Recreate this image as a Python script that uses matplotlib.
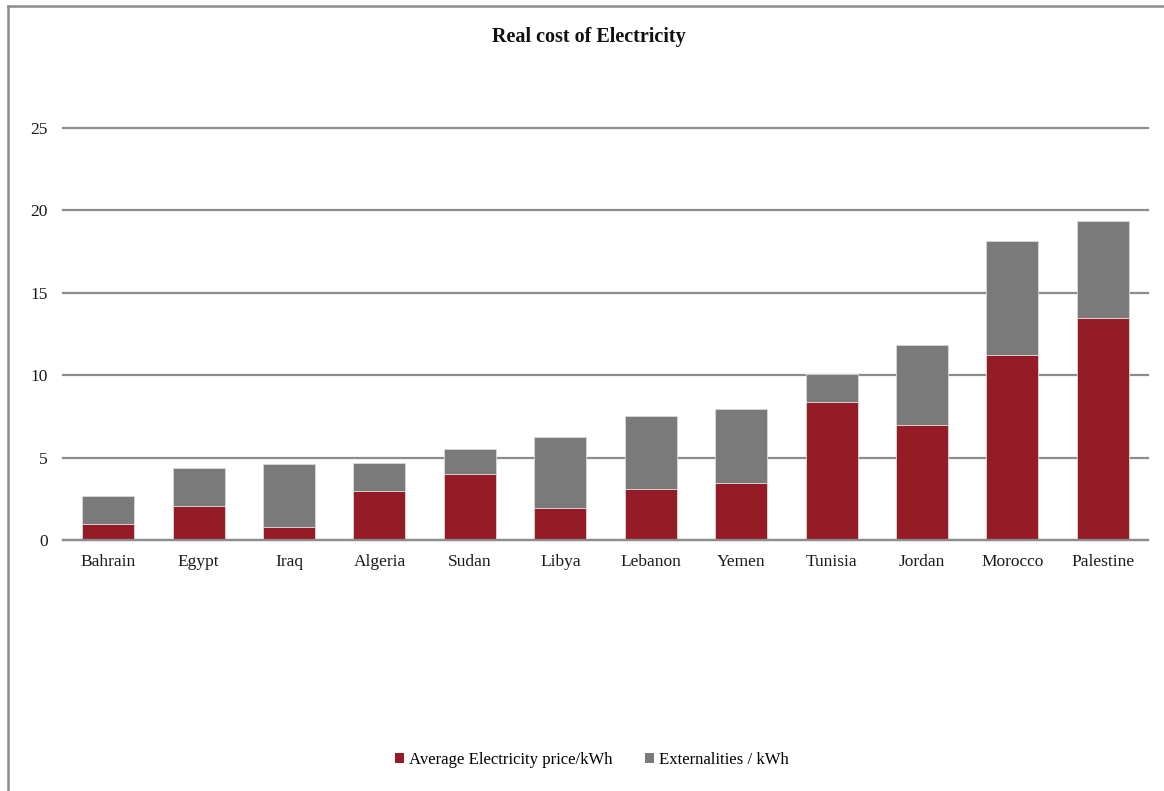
import matplotlib.pyplot as plt
from matplotlib.lines import Line2D
from matplotlib.patches import Patch
import numpy as np

countries = ['Bahrain', 'Egypt', 'Iraq', 'Algeria', 'Sudan', 'Libya',
             'Lebanon', 'Yemen', 'Tunisia', 'Jordan', 'Morocco', 'Palestine']
avg_price = [1.0, 2.05, 0.77, 2.95, 4.03, 1.96, 3.1, 3.48, 8.4, 7.0, 11.2, 13.5]
externalities = [1.7, 2.3, 3.83, 1.75, 1.47, 4.29, 4.4, 4.47, 1.65, 4.85, 6.95, 5.85]

red = '#951c26'
grey = '#7a7a7a'
line_col = '#8c8c8c'

plt.rcParams['font.family'] = ['Liberation Serif', 'DejaVu Serif']

fig = plt.figure(figsize=(11.64, 7.91), dpi=100)
ax = fig.add_axes([63 / 1164, 251 / 791, (1148 - 63) / 1164, (540 - 128) / 791])

x = np.arange(len(countries))
ax.bar(x, avg_price, width=0.575, color=red, edgecolor='#d9d9d9', linewidth=0.6,
       label='Average Electricity price/kWh', zorder=3)
ax.bar(x, externalities, width=0.575, bottom=avg_price, color=grey, edgecolor='#d9d9d9',
       linewidth=0.6, label='Externalities / kWh', zorder=3)

ax.set_xlim(-0.5, len(countries) - 0.5)
ax.set_ylim(0, 25)
ax.set_yticks([0, 5, 10, 15, 20, 25])
ax.set_xticks(x)
ax.set_xticklabels(countries)
ax.yaxis.grid(True, color=line_col, linewidth=1.6, zorder=0)
for gl in ax.get_ygridlines():
    gl.set_clip_on(False)
ax.set_axisbelow(True)
for s in ['top', 'right', 'left']:
    ax.spines[s].set_visible(False)
ax.spines['bottom'].set_color(line_col)
ax.spines['bottom'].set_linewidth(1.6)
ax.spines['bottom'].set_zorder(4)
ax.tick_params(axis='both', length=0, labelsize=12.5, colors='#1a1a1a')
ax.tick_params(axis='y', pad=11)
ax.tick_params(axis='x', pad=10)

fig.text(589 / 1164, 1 - 37 / 791, 'Real cost of Electricity', ha='center', va='center',
         fontsize=14.5, fontweight='bold', color='#111111')

handles = [Patch(facecolor=red), Patch(facecolor=grey)]
fig.legend(handles, ['Average Electricity price/kWh', 'Externalities / kWh'],
           loc='center', bbox_to_anchor=(592 / 1164, 1 - 760 / 791), ncol=2, frameon=False,
           fontsize=12.1, handlelength=0.55, handleheight=0.55, handletextpad=0.3,
           columnspacing=1.9)

# outer frame: only left and top edges
fig.add_artist(Line2D([7.5 / 1164, 7.5 / 1164], [0, 1 - 5.5 / 791], transform=fig.transFigure,
                      color=line_col, linewidth=1.8))
fig.add_artist(Line2D([7.5 / 1164, 1], [1 - 5.5 / 791, 1 - 5.5 / 791], transform=fig.transFigure,
                      color=line_col, linewidth=1.8))

fig.savefig('out.png', dpi=100)
